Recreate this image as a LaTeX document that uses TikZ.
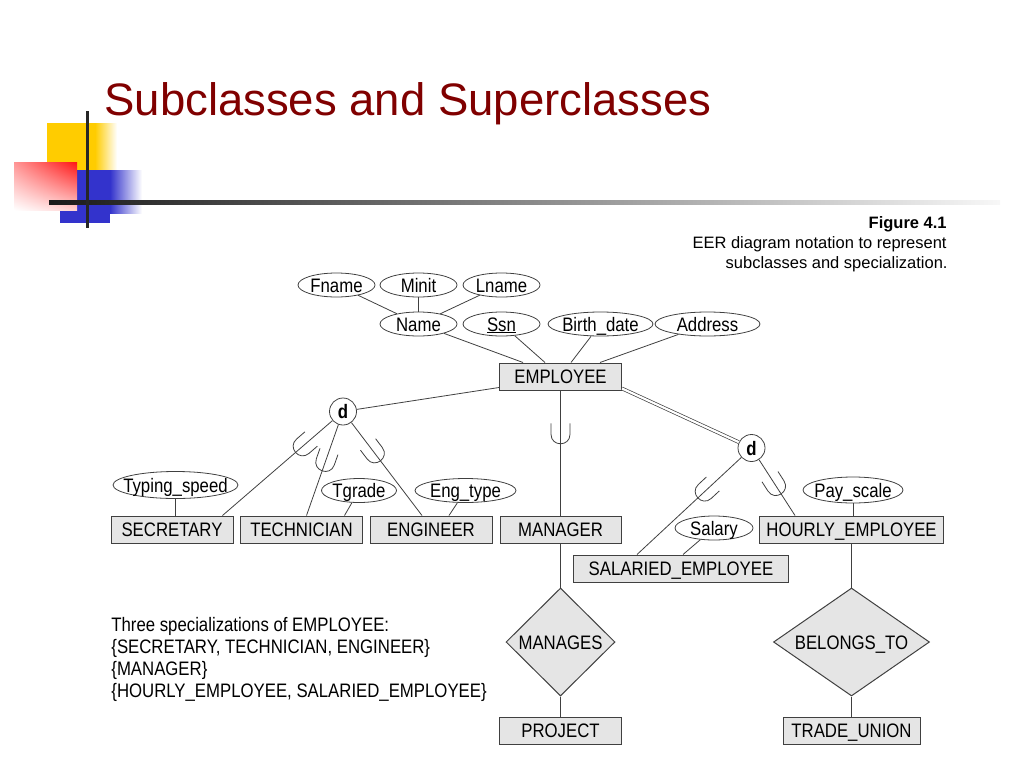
\documentclass[tikz,border=0pt]{standalone}
\usepackage{fontspec}
\setmainfont{Liberation Sans}
\newfontfamily\erfont[FakeStretch=0.86]{Liberation Sans}
\usetikzlibrary{shapes.geometric,shadings}
\definecolor{titlered}{RGB}{128,0,0}
\definecolor{boxgray}{gray}{0.9}
\definecolor{decoyellow}{RGB}{255,204,0}
\definecolor{decored}{RGB}{255,20,20}
\definecolor{decoblue}{RGB}{51,51,204}
\newcommand{\cbox}[1]{\makebox[0pt]{#1}}

\begin{document}
\begin{tikzpicture}[x=1pt, y=-1pt, line width=0.8pt,
  every node/.style={font=\erfont\fontsize{19.5}{22}\selectfont},
  entity/.style={rectangle, draw=black!75, fill=boxgray, line width=1pt, minimum height=27pt, inner sep=0pt, text height=14pt, text depth=0pt},
  attr/.style={ellipse, draw=black!75, minimum height=24pt, inner sep=0pt, text height=14pt, text depth=0pt},
  rel/.style={diamond, draw=black!75, fill=boxgray, line width=1pt, minimum height=108pt, inner sep=0pt, text height=14pt, text depth=0pt},
  disj/.style={circle, draw=black!75, fill=white, minimum size=27pt, inner sep=0pt, text height=14pt, text depth=0pt, font=\erfont\bfseries\fontsize{19.5}{22}\selectfont},
  link/.style={draw=black!75},
  subsetmark/.pic={\draw[black!75] (-11,-9.5) -- (0,-9.5) .. controls (12.7,-9.5) and (12.7,9.5) .. (0,9.5) -- (-11,9.5);}]
\useasboundingbox (0,0) rectangle (1024,768);

% slide corner
\fill[decoyellow] (47,123) rectangle (95,170);
\shade[left color=decoyellow, right color=white] (95,123) rectangle (117,170);
\fill[decoblue] (60,170) rectangle (110,223);
\shade[left color=decoblue, right color=white] (110,170) rectangle (142,213);
\shade[upper left=decored!45!white, upper right=decored, lower left=white, lower right=decored!20!white] (14,162) rectangle (77,210);
\shade[left color=black!90, middle color=black!50, right color=black!3] (49,200) rectangle (1000,204);
\draw[line width=3pt, black!85] (87,111) -- (87,228);

\node[anchor=base west, inner sep=0pt, text=titlered, font=\fontsize{45.5}{54}\selectfont] (title) at (104,115) {Subclasses and Superclasses};

\node[anchor=base east, inner sep=0pt, font=\bfseries\fontsize{16.5}{20}\selectfont] (fig) at (947,228) {Figure 4.1};
\node[anchor=base east, inner sep=0pt, font=\fontsize{16.5}{20}\selectfont] (cap1) at (947,248) {EER diagram notation to represent};
\node[anchor=base east, inner sep=0pt, font=\fontsize{16.5}{20}\selectfont] (cap2) at (948,268) {subclasses and specialization.};

% attributes
\node[attr, minimum width=77pt] (fname) at (336.5,285) {\cbox{Fname}};
\node[attr, minimum width=77pt] (minit) at (418.5,285) {\cbox{Minit}};
\node[attr, minimum width=77pt] (lname) at (501.5,285) {\cbox{Lname}};
\node[attr, minimum width=77pt] (name) at (418.5,324) {\cbox{Name}};
\node[attr, minimum width=77pt] (ssn) at (501.5,324) {\cbox{\underline{Ssn}}};
\node[attr, minimum width=105pt] (bdate) at (600.5,324) {\cbox{Birth\_date}};
\node[attr, minimum width=105pt] (address) at (707.5,324) {\cbox{Address}};
\node[attr, minimum width=125pt, minimum height=27pt] (typing) at (175.5,485) {\cbox{Typing\_speed}};
\node[attr, minimum width=75pt] (tgrade) at (359,490.5) {\cbox{Tgrade}};
\node[attr, minimum width=101pt] (engtype) at (465.5,490.5) {\cbox{Eng\_type}};
\node[attr, minimum width=78pt] (salary) at (714,528) {\cbox{Salary}};
\node[attr, minimum width=100pt, minimum height=26pt] (payscale) at (853,490) {\cbox{Pay\_scale}};

% entities
\node[entity, minimum width=122pt] (employee) at (560.5,376.5) {EMPLOYEE};
\node[entity, minimum width=122pt] (secretary) at (172,529.5) {SECRETARY};
\node[entity, minimum width=122pt] (technician) at (301.5,529.5) {TECHNICIAN};
\node[entity, minimum width=122pt] (engineer) at (431,529.5) {ENGINEER};
\node[entity, minimum width=121pt] (manager) at (560.5,529.5) {MANAGER};
\node[entity, minimum width=184pt] (hourly) at (851.5,529.5) {HOURLY\_EMPLOYEE};
\node[entity, minimum width=215pt] (salaried) at (681,568.5) {SALARIED\_EMPLOYEE};
\node[entity, minimum width=122pt] (project) at (560.5,730.5) {PROJECT};
\node[entity, minimum width=137pt] (tradeunion) at (851.5,730.5) {TRADE\_UNION};

\node[rel, minimum width=109pt] (manages) at (560.5,642) {\cbox{MANAGES}};
\node[rel, minimum width=156pt] (belongsto) at (851.5,642) {\cbox{BELONGS\_TO}};

\node[disj] (d1) at (343,411.5) {d};
\node[disj] (d2) at (751.5,448) {d};

% connectors
\draw[link] (fname) -- (name);
\draw[link] (minit) -- (name);
\draw[link] (lname) -- (name);
\draw[link] (name) -- ([xshift=24pt]employee.north west);
\draw[link] (ssn) -- ([xshift=46pt]employee.north west);
\draw[link] (bdate) -- ([xshift=72pt]employee.north west);
\draw[link] (address) -- ([xshift=101pt]employee.north west);
\draw[link] ([yshift=3pt]employee.south west) -- (d1);
\draw[link, double, double distance=2.2pt, line width=0.7pt] ([yshift=2pt]employee.south east) -- (d2);

\draw[link] (d1) -- ([xshift=-11pt]secretary.north east) pic[pos=0.27, sloped, allow upside down]{subsetmark};
\draw[link] (d1) -- ([xshift=5pt]technician.north) pic[pos=0.41, sloped, allow upside down]{subsetmark};
\draw[link] (d1) -- ([xshift=-9pt]engineer.north) pic[pos=0.33, sloped, allow upside down]{subsetmark};
\draw[link] (employee) -- (manager) pic[pos=0.35, sloped, allow upside down]{subsetmark};
\draw[link] (d2) -- ([xshift=-44pt]salaried.north) pic[pos=0.35, sloped, allow upside down]{subsetmark};
\draw[link] (d2) -- ([xshift=36pt]hourly.north west) pic[pos=0.47, sloped, allow upside down]{subsetmark};

\draw[link] (typing) -- (typing |- secretary.north);
\draw[link] (tgrade) -- ([xshift=43pt]technician.north);
\draw[link] (engtype) -- ([xshift=18pt]engineer.north);
\draw[link] (salary) -- ([xshift=2pt]salaried.north);
\draw[link] (payscale) -- (payscale |- hourly.north);

\draw[link] (manager) -- (manages);
\draw[link] (manages) -- (project);
\draw[link] (hourly) -- (belongsto);
\draw[link] (belongsto) -- (tradeunion);

\foreach \txt [count=\i] in {{Three specializations of EMPLOYEE:}, {\{SECRETARY, TECHNICIAN, ENGINEER\}}, {\{MANAGER\}}, {\{HOURLY\_EMPLOYEE, SALARIED\_EMPLOYEE\}}}
  \node[anchor=base west, inner sep=0pt] (note\i) at (111,{609+22*\i}) {\txt};
\end{tikzpicture}
\end{document}
